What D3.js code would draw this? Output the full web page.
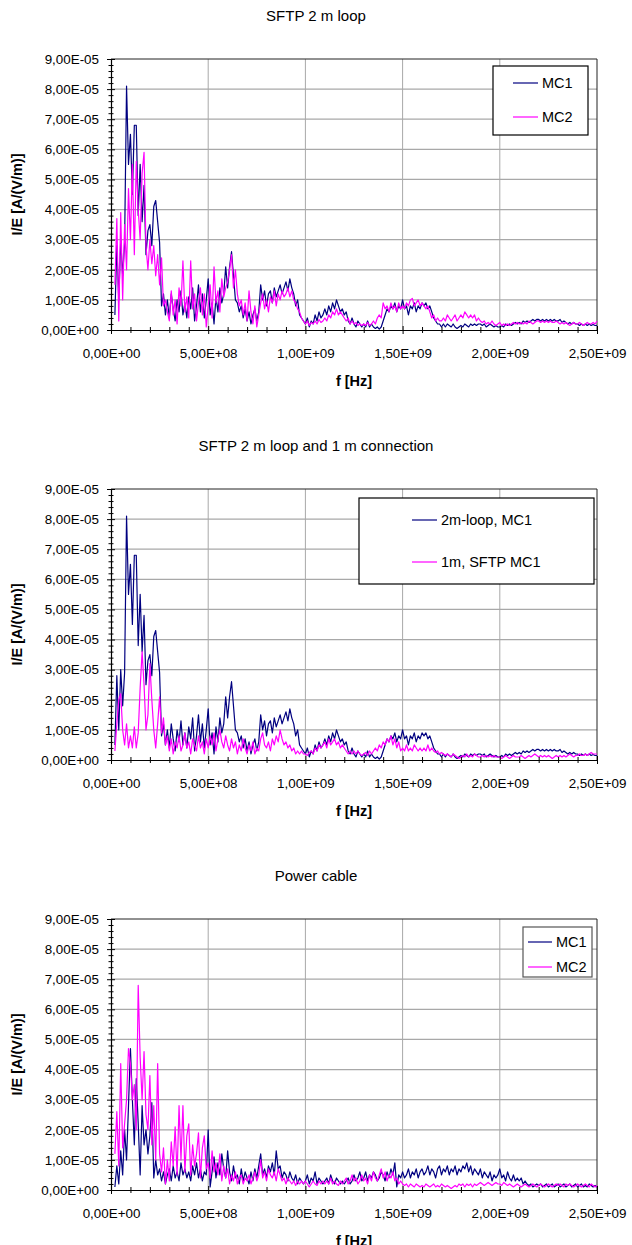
<!DOCTYPE html>
<html><head><meta charset="utf-8">
<script src="https://cdn.jsdelivr.net/npm/d3@7"></script>
<style>
body{margin:0;background:#fff}
svg{display:block}
text{font-family:"Liberation Sans", Arial, sans-serif; fill:#000}
</style>
</head><body>
<svg id="c" width="632" height="1245"></svg>
<script>
// ---------- DATA ----------
// frequency sweep: 20 MHz .. 2.5 GHz, 10 MHz step (values below in units of 1e-6 A/(V/m))
const freqStartHz = 2e7;
const freqStepHz = 1e7;
const valueUnit = 1e-6;

const titles = ["SFTP 2 m loop", "SFTP 2 m loop and 1 m connection", "Power cable"];
const legendLabels = [["MC1", "MC2"], ["2m-loop, MC1", "1m, SFTP MC1"], ["MC1", "MC2"]];
const yTickLabels = ["0,00E+00","1,00E-05","2,00E-05","3,00E-05","4,00E-05","5,00E-05","6,00E-05","7,00E-05","8,00E-05","9,00E-05"];
const xTickLabels = ["0,00E+00","5,00E+08","1,00E+09","1,50E+09","2,00E+09","2,50E+09"];
const yAxisTitle = "I/E [A/(V/m)]";
const xAxisTitle = "f [Hz]";

const sftpLoopMC1 = [
  5, 28, 10, 30, 18, 29, 81, 55,
  65, 45, 68, 68, 38, 55, 36, 48, 25, 33,
  35, 28, 41, 43, 36, 29, 8, 12, 5, 10,
  4, 12, 7, 3, 10, 6, 13, 5, 9, 4,
  11, 7, 14, 3, 8, 15, 6, 12, 4, 10,
  17, 5, 9, 2, 11, 6, 14, 9, 12, 21,
  14, 21, 26, 18, 10, 9, 6, 8, 4, 7,
  3, 6, 2, 5, 7, 3, 6, 15, 10, 13,
  8, 12, 13, 9, 14, 11, 13, 15, 12, 14,
  16, 13, 17, 14, 12, 8, 10, 5, 4, 3,
  2, 4, 1, 3, 2, 5, 3, 6, 4, 5,
  7, 5, 8, 6, 9, 7, 10, 8, 6, 7,
  5, 6, 3, 2, 4, 2, 1, 3, 2, 1,
  2, 1, 3, 1, 2, 1, 0.5, 1, 0.3, 1,
  3, 5, 7, 6, 8, 7, 9, 6, 8, 7,
  10, 7, 8, 5, 8, 7, 9, 6, 8, 7,
  9, 8, 9, 7, 8, 6, 4, 3, 2, 2,
  1, 2, 1, 2, 1.5, 1, 2, 1, 0.5, 1,
  1.5, 1, 2, 1.5, 1, 2, 1.5, 2, 1.5, 2,
  2, 1.5, 2, 1, 1.5, 2, 1.5, 1, 1.5, 1,
  1, 1.5, 1, 2, 1.5, 2, 1.5, 2, 2.5, 2,
  2.5, 2, 3, 2.5, 3, 2.5, 3, 3.5, 3, 3.5,
  3.5, 3, 3.5, 3, 3.5, 3, 3.5, 3, 3.5, 3,
  3, 3.5, 2.5, 3, 2.5, 2, 2.5, 2, 2.5, 2,
  2, 1.5, 2, 1.5, 2, 1.5, 2, 1.5, 1.8, 1.5,
  1.5
];

const sftpLoopMC2 = [
  15, 37, 3, 39, 10, 35, 20, 47,
  30, 55, 25, 56, 40, 30, 52, 59, 28, 20,
  30, 22, 28, 18, 25, 15, 24, 8, 10, 6,
  3, 13, 5, 10, 2, 14, 8, 23, 6, 11,
  4, 23, 7, 12, 3, 9, 14, 5, 12, 1,
  8, 15, 4, 21, 9, 13, 6, 17, 11, 14,
  16, 20, 25, 14, 20, 12, 8, 10, 5, 9,
  3, 13, 6, 2, 8, 1, 5, 9, 12, 7,
  10, 6, 11, 9, 13, 8, 12, 10, 13, 11,
  12, 14, 11, 13, 10, 9, 7, 6, 4, 3,
  2, 3, 1.5, 2.5, 2, 3, 2, 3.5, 2.5, 3,
  4, 3, 5, 4, 6, 5, 7, 5, 6, 5,
  4, 3, 4, 2, 3, 2, 2.5, 1.5, 2, 1.5,
  2, 1.5, 2.5, 1.5, 2, 3, 2, 4, 5, 4,
  9, 7, 8, 6, 9, 7, 8, 6, 9, 7,
  8, 7, 9, 8, 10, 10.5, 8, 9, 10, 8,
  9, 8, 7, 8, 6, 4, 5, 3, 4, 3,
  3, 4, 3, 5, 4, 3, 4, 5, 3, 4,
  5, 4, 6, 5, 4, 5, 4, 5, 3, 4,
  3, 2.5, 3, 2, 2.5, 2, 3, 2, 1.5, 2,
  2.5, 1.5, 2, 1.5, 2, 1.5, 2, 2.5, 2, 2.5,
  2, 2.5, 2, 2.5, 2, 3, 2.5, 2, 2.5, 3,
  3, 2.5, 3, 2.5, 3, 2.5, 3, 2.5, 2.5, 3,
  2.5, 2, 2.5, 2, 2.5, 2, 1.5, 2, 2.5, 2,
  2, 2.5, 2, 1.5, 2, 2.5, 2, 2, 2.5, 2,
  3
];

const sftpConn1mMC1 = [
  3, 12, 20, 22, 10, 5, 12, 4,
  8, 4, 11, 4, 9, 24, 36, 25, 10, 15,
  32, 20, 10, 4, 12, 21, 9, 14, 5, 8,
  3, 7, 2, 6, 4, 8, 3, 5, 9, 4,
  6, 2, 7, 5, 3, 8, 4, 6, 2, 7,
  4, 8, 5, 9, 3, 7, 10, 6, 4, 8,
  5, 3, 7, 4, 6, 2, 5, 3, 7, 4,
  2, 5, 3, 6, 2, 4, 3, 7, 9, 5,
  4, 6, 3, 7, 5, 8, 6, 10, 7, 5,
  6, 4, 5, 3, 4, 2, 3, 2, 3, 2,
  2, 1.5, 2.5, 3, 2, 4, 3, 5, 4, 5,
  6, 4, 7, 5, 6, 7, 5, 6, 4, 5,
  4, 3, 2, 3, 2, 3, 2, 3, 2, 1.5,
  2, 2.5, 1.5, 3, 2, 3, 4, 3, 5, 4,
  6, 5, 7, 6, 8, 5, 7, 4, 6, 3,
  4, 3, 5, 3, 4, 3, 5, 4, 3, 4,
  3, 4, 3, 5, 3, 4, 3, 2.5, 3, 2,
  2.5, 2, 1.5, 2, 1.5, 1, 2, 1.5, 1, 0.5,
  1, 1.5, 1, 2, 1, 1.5, 1, 2, 1.5, 1,
  1, 1.5, 1, 1.5, 1, 1.5, 1, 1.5, 1, 1,
  1, 0.5, 1, 1.5, 1, 0.5, 1, 1.5, 1, 1,
  1, 1.5, 1, 0.5, 1, 1.5, 1, 1.5, 2, 1.5,
  1, 1.5, 1, 1.5, 1, 1.5, 1, 0.5, 1, 1.5,
  1, 1.5, 1, 1.5, 1, 1.5, 2, 1.5, 1, 1.5,
  1.5, 2, 1.5, 1.5, 2, 1.5, 2, 2.5, 2, 2,
  2
];

const powerMC1 = [
  1, 8, 2, 13, 5, 20, 10, 28,
  47, 30, 15, 37, 22, 5, 28, 15, 20, 12,
  18, 29, 4, 10, 5, 7, 3, 6, 2, 5,
  7, 3, 8, 4, 6, 3, 9, 5, 7, 4,
  6, 3, 8, 5, 9, 4, 7, 3, 6, 5,
  20, 1, 6, 11, 4, 9, 5, 12, 7, 4,
  13, 6, 3, 8, 4, 5, 2, 7, 3, 6,
  4, 2, 6, 3, 7, 4, 8, 12, 5, 7,
  4, 8, 6, 9, 5, 13, 7, 8, 4, 6,
  5, 3, 6, 4, 3, 5, 2, 4, 3, 2,
  3, 5, 2, 4, 3, 6, 2, 4, 3, 2,
  3, 4, 2, 5, 3, 2, 4, 3, 2, 3,
  2, 3, 4, 2, 3, 5, 3, 4, 6, 3,
  4, 6, 3, 5, 4, 6, 5, 3, 4, 6,
  5, 3, 6, 4, 7, 5, 9, 1, 5, 4,
  6, 4, 5, 7, 4, 6, 5, 7, 4, 6,
  7, 5, 6, 8, 5, 7, 6, 4, 7, 8,
  5, 7, 6, 8, 5, 7, 6, 8, 5, 7,
  6, 8, 7, 9, 6, 8, 5, 7, 6, 5,
  7, 4, 6, 5, 4, 6, 3, 5, 4, 5,
  7, 4, 5, 3, 6, 4, 3, 5, 3, 4,
  3, 4, 2, 3, 2, 1.5, 2, 1, 1.5, 2,
  1.5, 2, 1, 1.5, 2, 1, 1.5, 2, 1, 1.5,
  2, 1, 1.5, 2, 1, 1.5, 2, 1, 1.5, 2,
  1, 1.5, 2, 1, 1.5, 1, 2, 1.5, 1, 1.5,
  1
];

const powerMC2 = [
  12, 26, 8, 42, 14, 22, 30, 47,
  42, 30, 35, 20, 68, 44, 30, 46, 25, 20,
  38, 15, 28, 10, 42, 12, 6, 14, 2, 10,
  3, 16, 8, 21, 5, 28, 10, 28, 6, 18,
  22, 5, 15, 8, 12, 19, 4, 14, 18, 7,
  9, 4, 13, 6, 9, 5, 12, 3, 8, 4,
  7, 2, 5, 3, 6, 2, 4, 5, 2, 4,
  3, 5, 2, 4, 6, 3, 5, 10, 4, 6,
  3, 7, 5, 4, 6, 3, 7, 5, 3, 4,
  2, 4, 3, 2, 3, 1.5, 3, 2, 3, 2,
  3, 2, 1, 2, 3, 2, 1.5, 3, 2, 3,
  2, 3, 2, 4, 2, 3, 2, 1.5, 3, 2,
  3, 4, 2, 3, 5, 3, 4, 2, 3, 5,
  3, 4, 2, 5, 3, 6, 4, 3, 5, 7,
  4, 6, 3, 5, 4, 6, 3, 4, 2, 3,
  2, 1.5, 2, 1, 2, 1.5, 1, 2, 1.5, 1,
  1.5, 1, 2, 1.5, 1, 1.5, 2, 1, 1.5, 1,
  2, 1.5, 1, 1.5, 1, 0.5, 1, 1.5, 1, 2,
  1.5, 2, 1, 2, 1.5, 2, 1, 2, 1.5, 2,
  2.5, 2, 1.5, 2, 2.5, 2, 1.5, 2, 2.5, 2,
  2, 1.5, 2.5, 2, 1.5, 2, 1.5, 1, 1.5, 2,
  1.5, 1, 1.5, 2, 1.5, 1, 1.5, 2, 1.5, 1,
  1.5, 2, 1.5, 1, 1.5, 2, 1.5, 1, 1.5, 2,
  1.5, 2, 1.5, 1, 2, 1.5, 2, 1.5, 1, 1.5,
  2, 1.5, 1, 1.5, 2, 1.5, 1, 2, 1.5, 1,
  1.5
];

const chartSeries = [[sftpLoopMC1, sftpLoopMC2], [sftpLoopMC1, sftpConn1mMC1], [powerMC1, powerMC2]];

// ---------- LAYOUT / STYLE ----------
const seriesColors = ["#000080", "#ff00ff"];
const plot = {left: 111, right: 597, top: 59, bottom: 330};
const chartOffsets = [0, 430, 860];
const legendBoxes = [
  {x: 493, y: 66, w: 95, h: 69, lx1: 513, lx2: 538, ly: [83, 117], tx: 542, stroke: "#000"},
  {x: 359, y: 68, w: 235, h: 86, lx1: 412, lx2: 437, ly: [90, 132], tx: 441, stroke: "#000"},
  {x: 523, y: 67, w: 69, h: 50, lx1: 528, lx2: 552, ly: [82, 107], tx: 556, stroke: "#555"}
];

const svg = d3.select("#c");
const x = d3.scaleLinear().domain([0, 2.5e9]).range([plot.left, plot.right]);
const y = d3.scaleLinear().domain([0, 9e-5]).range([plot.bottom, plot.top]);

const yMajor = yTickLabels.map((_, i) => i * 1e-5);
const xMajor = xTickLabels.map((_, i) => i * 5e8);
const yMinor = d3.range(0, 46).map(i => i * 2e-6).filter((_, i) => i % 5 !== 0);
const xMinor = d3.range(0, 26).map(i => i * 1e8).filter((_, i) => i % 5 !== 0);

chartOffsets.forEach((off, ci) => {
  const g = svg.append("g").attr("transform", `translate(0,${off})`);

  g.append("text").attr("x", 316).attr("y", 21).attr("text-anchor", "middle")
    .style("font-size", "15px").text(titles[ci]);

  // grid
  g.append("g").selectAll("line").data(yMajor.slice(1, -1)).join("line")
    .attr("x1", plot.left).attr("x2", plot.right)
    .attr("y1", d => y(d)).attr("y2", d => y(d))
    .attr("stroke", "#a8a8a8").attr("stroke-width", 1.2);
  g.append("g").selectAll("line").data(xMajor.slice(1, -1)).join("line")
    .attr("y1", plot.top).attr("y2", plot.bottom)
    .attr("x1", d => x(d)).attr("x2", d => x(d))
    .attr("stroke", "#a8a8a8").attr("stroke-width", 1);

  // plot frame (top/right)
  g.append("path")
    .attr("d", `M${plot.left},${plot.top}H${plot.right}V${plot.bottom}`)
    .attr("fill", "none").attr("stroke", "#222").attr("stroke-width", 1);

  // series
  const line = d3.line()
    .x((d, i) => x(freqStartHz + i * freqStepHz))
    .y(d => y(d * valueUnit));
  chartSeries[ci].forEach((s, si) => {
    g.append("path").datum(s).attr("d", line)
      .attr("fill", "none").attr("stroke", seriesColors[si])
      .attr("stroke-width", 1.2).attr("stroke-linejoin", "round");
  });

  // y axis
  const yAx = g.append("g").attr("transform", `translate(${plot.left},0)`)
    .call(d3.axisLeft(y).tickValues(yMajor).tickFormat((d, i) => yTickLabels[i])
      .tickSizeInner(4).tickSizeOuter(0).tickPadding(8));
  yAx.selectAll(".tick line").attr("x1", 4);
  const yMin = g.append("g").attr("transform", `translate(${plot.left},0)`)
    .call(d3.axisLeft(y).tickValues(yMinor).tickFormat("").tickSizeInner(2.5).tickSizeOuter(0));
  yMin.select(".domain").remove();
  yMin.selectAll(".tick line").attr("x1", 2.5);

  // x axis
  const xAx = g.append("g").attr("transform", `translate(0,${plot.bottom})`)
    .call(d3.axisBottom(x).tickValues(xMajor).tickFormat((d, i) => xTickLabels[i])
      .tickSizeInner(4).tickSizeOuter(0).tickPadding(14));
  xAx.selectAll(".tick line").attr("y1", -4);
  const xMin = g.append("g").attr("transform", `translate(0,${plot.bottom})`)
    .call(d3.axisBottom(x).tickValues(xMinor).tickFormat("").tickSizeInner(3).tickSizeOuter(0));
  xMin.select(".domain").remove();
  xMin.selectAll(".tick line").attr("y1", -3);

  [yAx, xAx, yMin, xMin].forEach(a => {
    a.attr("font-family", null).attr("font-size", null);
    a.selectAll("text").style("font-size", "13.4px").attr("fill", "#000");
    a.selectAll("line").attr("stroke", "#000");
    a.selectAll(".domain").attr("stroke", "#000").attr("stroke-width", 1.2);
  });

  // axis titles
  g.append("text").attr("transform", `translate(17,${(plot.top + plot.bottom) / 2}) rotate(-90)`)
    .attr("text-anchor", "middle").attr("dominant-baseline", "central")
    .style("font-size", "14.5px").style("font-weight", "bold").text(yAxisTitle);
  g.append("text").attr("x", (plot.left + plot.right) / 2).attr("y", 386)
    .attr("text-anchor", "middle")
    .style("font-size", "14.5px").style("font-weight", "bold").text(xAxisTitle);

  // legend
  const lb = legendBoxes[ci];
  const lg = g.append("g");
  lg.append("rect").attr("x", lb.x).attr("y", lb.y).attr("width", lb.w).attr("height", lb.h)
    .attr("fill", "#fff").attr("stroke", lb.stroke).attr("stroke-width", 1.2);
  legendLabels[ci].forEach((lab, li) => {
    lg.append("line").attr("x1", lb.lx1).attr("x2", lb.lx2)
      .attr("y1", lb.ly[li]).attr("y2", lb.ly[li])
      .attr("stroke", seriesColors[li]).attr("stroke-width", 1.2);
    lg.append("text").attr("x", lb.tx).attr("y", lb.ly[li]).attr("dominant-baseline", "central")
      .style("font-size", "14.5px").text(lab);
  });
});
</script>
</body></html>
